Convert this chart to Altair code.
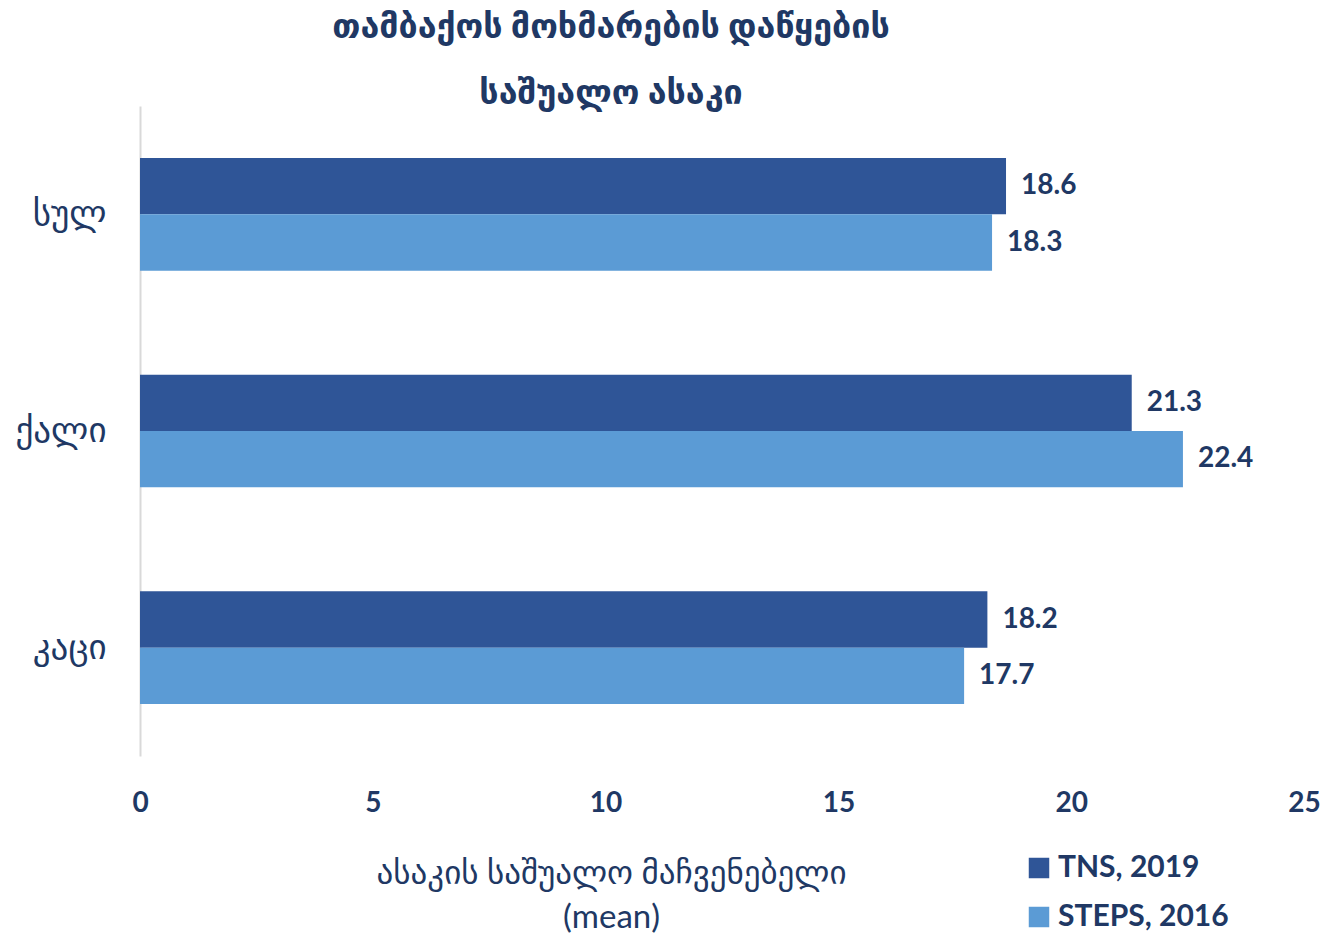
import altair as alt
import pandas as pd

categories = ["სულ", "ქალი", "კაცი"]
series = ["TNS, 2019", "STEPS, 2016"]
tns_2019 = [18.6, 21.3, 18.2]
steps_2016 = [18.3, 22.4, 17.7]
x_ticks = [0, 5, 10, 15, 20, 25]

rows = []
for c, a, b in zip(categories, tns_2019, steps_2016):
    rows.append({"cat": c, "series": series[0], "value": a})
    rows.append({"cat": c, "series": series[1], "value": b})
df = pd.DataFrame(rows)

NAVY = "#203864"
FONT = "Lato, DejaVu Sans, sans-serif"

y_enc = alt.Y("cat:N", sort=categories,
              scale=alt.Scale(paddingInner=0.48, paddingOuter=0.24),
              axis=alt.Axis(title=None, labelFontSize=35, labelColor=NAVY, labelFont=FONT,
                            labelPadding=34, ticks=False, domainColor="#D9D9D9", domainWidth=2))
yoff = alt.YOffset("series:N", sort=series)

bars = alt.Chart(df).mark_bar().encode(
    x=alt.X("value:Q", scale=alt.Scale(domain=[0, 25], nice=False),
            axis=alt.Axis(values=x_ticks, title=["ასაკის საშუალო მაჩვენებელი", "(mean)"],
                          grid=False, domain=False, ticks=False, labelFlush=False,
                          labelFontSize=28, labelFontWeight="bold", labelColor=NAVY, labelFont=FONT,
                          labelPadding=33, titleFontSize=33, titleFontWeight="normal",
                          titleColor=NAVY, titleFont=FONT, titleX=471, titleY=101,
                          titleAlign="center", titleAnchor="start", titleBaseline="top",
                          titleLineHeight=44, titleLimit=800)),
    y=y_enc,
    yOffset=yoff,
    color=alt.Color("series:N", sort=series,
                    scale=alt.Scale(domain=series, range=["#2F5597", "#5B9BD5"]),
                    legend=alt.Legend(title=None, orient="none", legendX=884, legendY=747,
                                      symbolType="square", symbolSize=420, symbolStrokeWidth=0,
                                      labelFontSize=30, labelFontWeight="bold", labelColor=NAVY,
                                      labelFont=FONT, rowPadding=19, labelOffset=4,
                                      labelLimit=400)),
)

labels = alt.Chart(df).mark_text(align="left", baseline="middle", dx=15, fontSize=28,
                                 fontWeight="bold", color=NAVY, font=FONT).encode(
    x="value:Q", y=alt.Y("cat:N", sort=categories), yOffset=yoff,
    text=alt.Text("value:Q", format=".1f"))

chart = (bars + labels).properties(
    width=1164, height=650,
    title=alt.Title("თამბაქოს მოხმარების დაწყების", subtitle="საშუალო ასაკი",
                    fontSize=34, fontWeight="bold", color=NAVY, font=FONT,
                    subtitleFontSize=34, subtitleFontWeight="bold", subtitleColor=NAVY,
                    subtitleFont=FONT, subtitlePadding=32,
                    anchor="middle", dx=-111, offset=-5, limit=1000),
    autosize=alt.AutoSizeParams(type="none"),
    padding={"left": 132, "top": 98, "right": 17, "bottom": 178},
).configure_view(stroke=None)

chart.save("out.html", embed_options={"renderer": "svg", "actions": False})
